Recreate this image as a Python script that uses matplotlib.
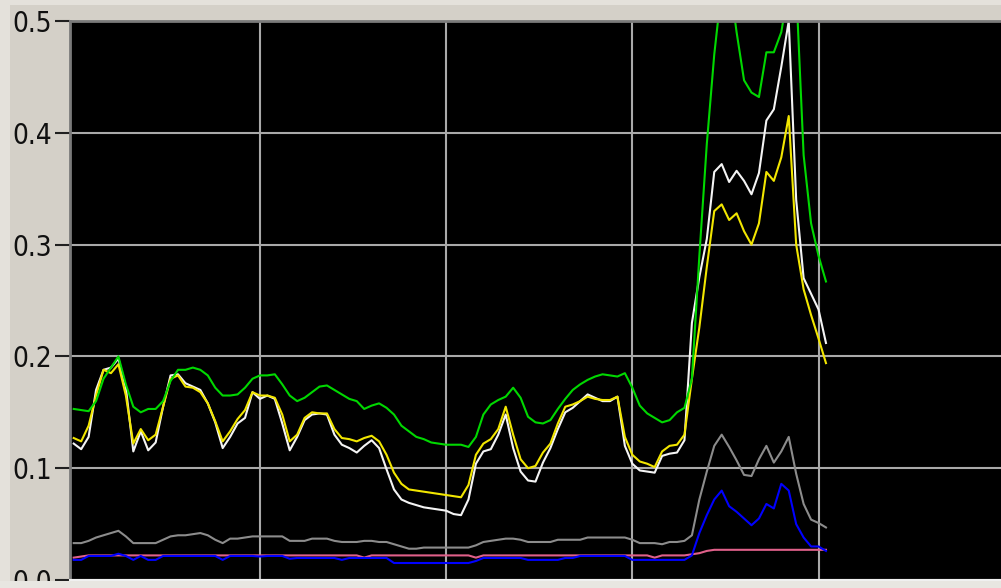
import numpy as np
import matplotlib
matplotlib.use('Agg')
import matplotlib.pyplot as plt
from matplotlib.patches import Rectangle
from matplotlib import font_manager

# sample times (one reading every 2 s)
t = np.arange(0, 204, 2)

green = [0.153, 0.152, 0.151, 0.160, 0.180, 0.190, 0.200, 0.175, 0.155, 0.150,
         0.153, 0.153, 0.160, 0.178, 0.188, 0.188, 0.190, 0.188, 0.183, 0.172,
         0.165, 0.165, 0.166, 0.172, 0.180, 0.183, 0.183, 0.184, 0.175, 0.165,
         0.160, 0.163, 0.168, 0.173, 0.174, 0.170, 0.166, 0.162, 0.160, 0.153,
         0.156, 0.158, 0.154, 0.148, 0.138, 0.133, 0.128, 0.126, 0.123, 0.122,
         0.121, 0.121, 0.121, 0.119, 0.128, 0.148, 0.157, 0.161, 0.164, 0.172,
         0.163, 0.146, 0.141, 0.140, 0.143, 0.153, 0.162, 0.170, 0.175, 0.179,
         0.182, 0.184, 0.183, 0.182, 0.185, 0.172, 0.156, 0.149, 0.145, 0.141,
         0.143, 0.150, 0.154, 0.180, 0.290, 0.390, 0.470, 0.530, 0.540, 0.490,
         0.447, 0.436, 0.432, 0.472, 0.472, 0.490, 0.530, 0.530, 0.380, 0.319,
         0.290, 0.267]

yellow = [0.127, 0.124, 0.138, 0.165, 0.188, 0.185, 0.193, 0.165, 0.122, 0.135,
          0.125, 0.130, 0.155, 0.180, 0.183, 0.173, 0.172, 0.168, 0.158, 0.142,
          0.124, 0.133, 0.144, 0.152, 0.168, 0.165, 0.165, 0.163, 0.148, 0.124,
          0.130, 0.145, 0.150, 0.149, 0.149, 0.135, 0.127, 0.126, 0.124, 0.127,
          0.129, 0.124, 0.112, 0.096, 0.086, 0.081, 0.080, 0.079, 0.078, 0.077,
          0.076, 0.075, 0.074, 0.085, 0.112, 0.122, 0.126, 0.135, 0.155, 0.130,
          0.108, 0.100, 0.102, 0.114, 0.122, 0.140, 0.155, 0.157, 0.160, 0.164,
          0.162, 0.161, 0.161, 0.164, 0.128, 0.112, 0.106, 0.104, 0.101, 0.115,
          0.120, 0.121, 0.130, 0.180, 0.226, 0.280, 0.330, 0.336, 0.322, 0.328,
          0.312, 0.300, 0.319, 0.365, 0.357, 0.378, 0.415, 0.300, 0.260, 0.237,
          0.216, 0.194]

white = [0.122, 0.117, 0.128, 0.170, 0.188, 0.190, 0.198, 0.172, 0.115, 0.133,
         0.116, 0.123, 0.155, 0.183, 0.184, 0.176, 0.173, 0.170, 0.158, 0.141,
         0.118, 0.128, 0.140, 0.145, 0.168, 0.162, 0.165, 0.162, 0.140, 0.116,
         0.128, 0.143, 0.148, 0.149, 0.148, 0.130, 0.121, 0.118, 0.114, 0.120,
         0.125, 0.118, 0.099, 0.081, 0.072, 0.069, 0.067, 0.065, 0.064, 0.063,
         0.062, 0.059, 0.058, 0.072, 0.104, 0.115, 0.117, 0.130, 0.148, 0.118,
         0.097, 0.089, 0.088, 0.105, 0.118, 0.135, 0.150, 0.154, 0.160, 0.166,
         0.163, 0.160, 0.160, 0.164, 0.120, 0.104, 0.098, 0.097, 0.096, 0.111,
         0.113, 0.114, 0.125, 0.230, 0.271, 0.305, 0.365, 0.372, 0.356, 0.366,
         0.357, 0.345, 0.364, 0.411, 0.421, 0.459, 0.500, 0.340, 0.270, 0.256,
         0.242, 0.212]

gray = [0.033, 0.033, 0.035, 0.038, 0.040, 0.042, 0.044, 0.039, 0.033, 0.033,
        0.033, 0.033, 0.036, 0.039, 0.040, 0.040, 0.041, 0.042, 0.040, 0.036,
        0.033, 0.037, 0.037, 0.038, 0.039, 0.039, 0.039, 0.039, 0.039, 0.035,
        0.035, 0.035, 0.037, 0.037, 0.037, 0.035, 0.034, 0.034, 0.034, 0.035,
        0.035, 0.034, 0.034, 0.032, 0.030, 0.028, 0.028, 0.029, 0.029, 0.029,
        0.029, 0.029, 0.029, 0.029, 0.031, 0.034, 0.035, 0.036, 0.037, 0.037,
        0.036, 0.034, 0.034, 0.034, 0.034, 0.036, 0.036, 0.036, 0.036, 0.038,
        0.038, 0.038, 0.038, 0.038, 0.038, 0.036, 0.033, 0.033, 0.033, 0.032,
        0.034, 0.034, 0.035, 0.040, 0.072, 0.097, 0.120, 0.130, 0.119, 0.107,
        0.094, 0.093, 0.108, 0.120, 0.105, 0.115, 0.128, 0.095, 0.068, 0.054,
        0.051, 0.047]

pink = [0.020, 0.021, 0.022, 0.022, 0.022, 0.022, 0.022, 0.022, 0.022, 0.022,
        0.022, 0.022, 0.022, 0.022, 0.022, 0.022, 0.022, 0.022, 0.022, 0.022,
        0.022, 0.022, 0.022, 0.022, 0.022, 0.022, 0.022, 0.022, 0.022, 0.022,
        0.022, 0.022, 0.022, 0.022, 0.022, 0.022, 0.022, 0.022, 0.022, 0.020,
        0.022, 0.022, 0.022, 0.022, 0.022, 0.022, 0.022, 0.022, 0.022, 0.022,
        0.022, 0.022, 0.022, 0.022, 0.020, 0.022, 0.022, 0.022, 0.022, 0.022,
        0.022, 0.022, 0.022, 0.022, 0.022, 0.022, 0.022, 0.022, 0.022, 0.022,
        0.022, 0.022, 0.022, 0.022, 0.022, 0.022, 0.022, 0.022, 0.020, 0.022,
        0.022, 0.022, 0.022, 0.023, 0.024, 0.026, 0.027, 0.027, 0.027, 0.027,
        0.027, 0.027, 0.027, 0.027, 0.027, 0.027, 0.027, 0.027, 0.027, 0.027,
        0.027, 0.027]

blue = [0.018, 0.018, 0.0215, 0.0215, 0.0215, 0.0215, 0.0235, 0.0215, 0.018, 0.0215,
        0.018, 0.018, 0.0215, 0.0215, 0.0215, 0.0215, 0.0215, 0.0215, 0.0215, 0.0215,
        0.018, 0.0215, 0.0215, 0.0215, 0.0215, 0.021, 0.0215, 0.0215, 0.0215, 0.019,
        0.0197, 0.0197, 0.0197, 0.0197, 0.0197, 0.0197, 0.018, 0.0197, 0.0197, 0.0197,
        0.0197, 0.0197, 0.0197, 0.0152, 0.0152, 0.0152, 0.0152, 0.0152, 0.0152, 0.0152,
        0.0152, 0.0152, 0.0152, 0.0152, 0.017, 0.0197, 0.0197, 0.0197, 0.0197, 0.0197,
        0.0197, 0.018, 0.018, 0.018, 0.018, 0.018, 0.0197, 0.0197, 0.0215, 0.0215,
        0.0215, 0.0215, 0.0215, 0.0215, 0.0215, 0.018, 0.018, 0.018, 0.018, 0.018,
        0.018, 0.018, 0.018, 0.022, 0.042, 0.058, 0.072, 0.080, 0.066, 0.061,
        0.055, 0.049, 0.055, 0.068, 0.064, 0.086, 0.080, 0.050, 0.038, 0.030,
        0.030, 0.026]

y_ticks = [0.0, 0.1, 0.2, 0.3, 0.4, 0.5]
y_labels = ['0.0', '0.1', '0.2', '0.3', '0.4', '0.5']
x_grid = [50, 100, 150, 200]

# pick a narrow face for the tick labels if one is installed
names = set(f.name for f in font_manager.fontManager.ttflist)
narrow = [f for f in font_manager.fontManager.ttflist
          if f.name == 'DejaVu Sans' and f.stretch == 'condensed']
if 'Liberation Sans Narrow' in names:
  label_font = dict(family=['Liberation Sans Narrow', 'DejaVu Sans'], size=21.5)
elif narrow:
  label_font = dict(family=['DejaVu Sans'], stretch='condensed', size=20)
else:
  label_font = dict(family=['Liberation Sans', 'DejaVu Sans'], size=18)

fig = plt.figure(figsize=(10.01, 5.88), dpi=100, facecolor='#d4d0c8')
# lighter window edges
fig.patches.append(Rectangle((0, 0), 0.01, 1, transform=fig.transFigure,
                             facecolor='#e4e1db', edgecolor='none', zorder=0))
fig.patches.append(Rectangle((0, 0.992), 1, 0.008, transform=fig.transFigure,
                             facecolor='#e4e1db', edgecolor='none', zorder=0))
fig.patches.append(Rectangle((0, 0), 1, 0.012, transform=fig.transFigure,
                             facecolor='#e8e6e1', edgecolor='none', zorder=0))

ax = fig.add_axes([70/1001, 8/588, 931/1001, 559/588])
ax.set_facecolor('k')

# traces, in drawing order
ax.plot(t, gray, color='#8c8c8c', lw=1.5)
ax.plot(t, white, color='#f4f4f4', lw=1.5)
ax.plot(t, yellow, color='#f2e600', lw=1.5)
ax.plot(t, green, color='#00d800', lw=1.5)
ax.plot(t, pink, color='#e0608a', lw=1.5)
ax.plot(t, blue, color='#0000ff', lw=1.5)

ax.set_xlim(-1, 249)
ax.set_ylim(0, 0.5)
ax.set_xticks(x_grid)
ax.set_xticklabels([])
ax.tick_params(axis='x', length=0)
ax.set_yticks(y_ticks)
ax.set_yticklabels(y_labels, **label_font)
ax.tick_params(axis='y', direction='out', length=11, width=1.5, color='#202020',
               pad=2, labelcolor='#101010')
ax.grid(True, color='#a9a9a9', lw=1.5)
ax.set_axisbelow(True)

ax.spines['right'].set_visible(False)
ax.spines['left'].set_color('#7a7a7a')
ax.spines['left'].set_linewidth(2)
ax.spines['top'].set_color('#7a7a7a')
ax.spines['top'].set_linewidth(2)
ax.spines['bottom'].set_color('#f0f0f0')
ax.spines['bottom'].set_linewidth(1.5)

fig.savefig('out.png', dpi=100, facecolor=fig.get_facecolor())
